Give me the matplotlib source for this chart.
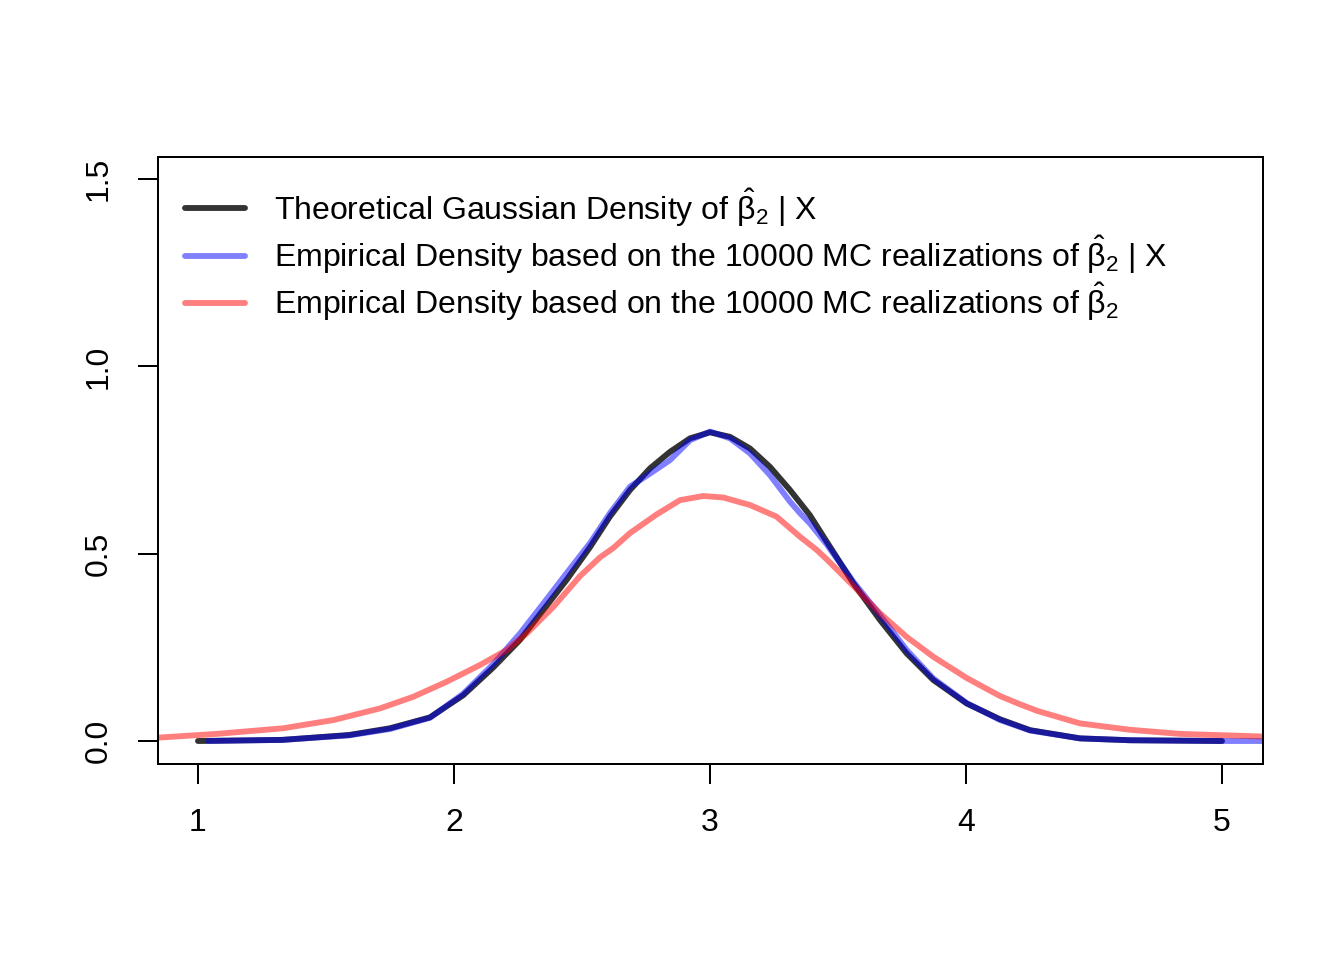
import numpy as np
import matplotlib
matplotlib.use("Agg")
import matplotlib.pyplot as plt

plt.rcParams['font.family'] = ['Liberation Sans', 'DejaVu Sans']
plt.rcParams['mathtext.fontset'] = 'custom'
plt.rcParams['mathtext.rm'] = 'Liberation Sans'
plt.rcParams['mathtext.it'] = 'Liberation Sans'

# valeurs
theo_x = [1.0, 1.33, 1.59, 1.75, 1.906, 2.036, 2.153, 2.258, 2.349, 2.44, 2.531, 2.609, 2.6875,
          2.766, 2.844, 2.922, 3.0, 3.078, 3.156, 3.234, 3.3125, 3.39, 3.456, 3.56, 3.664, 3.768,
          3.872, 4.003, 4.133, 4.25, 4.445, 4.64, 5.0]
theo_y = [0.0, 0.003, 0.016, 0.034, 0.063, 0.122, 0.196, 0.27, 0.35, 0.43, 0.517, 0.599, 0.670,
          0.728, 0.772, 0.808, 0.824, 0.812, 0.781, 0.732, 0.670, 0.603, 0.532, 0.421, 0.323, 0.234,
          0.163, 0.1, 0.058, 0.029, 0.007, 0.002, 0.0]

emp_x = [1.04, 1.33, 1.59, 1.75, 1.906, 2.036, 2.153, 2.258, 2.349, 2.44, 2.531, 2.609, 2.6875,
         2.766, 2.844, 2.922, 3.0, 3.078, 3.156, 3.234, 3.3125, 3.352, 3.39, 3.456, 3.56, 3.664,
         3.768, 3.872, 4.003, 4.133, 4.25, 4.445, 4.64, 5.0, 5.2]
emp_y = [0.0, 0.003, 0.015, 0.032, 0.062, 0.126, 0.205, 0.287, 0.367, 0.448, 0.528, 0.608, 0.679,
         0.714, 0.75, 0.803, 0.826, 0.808, 0.768, 0.71, 0.639, 0.608, 0.581, 0.525, 0.425, 0.336,
         0.243, 0.167, 0.101, 0.056, 0.028, 0.007, 0.002, 0.0, 0.0]

unc_x = [0.80, 1.073, 1.333, 1.53, 1.711, 1.841, 1.971, 2.102, 2.206, 2.284, 2.388, 2.492, 2.57,
         2.622, 2.6875, 2.792, 2.883, 2.974, 3.052, 3.156, 3.26, 3.352, 3.417, 3.456, 3.56, 3.664,
         3.768, 3.872, 4.003, 4.133, 4.211, 4.28, 4.445, 4.64, 4.836, 5.2]
unc_y = [0.007, 0.019, 0.034, 0.056, 0.087, 0.118, 0.158, 0.203, 0.243, 0.287, 0.358, 0.44, 0.49,
         0.515, 0.555, 0.605, 0.643, 0.654, 0.650, 0.630, 0.599, 0.545, 0.51, 0.485, 0.414, 0.341,
         0.278, 0.225, 0.168, 0.12, 0.098, 0.08, 0.047, 0.03, 0.019, 0.011]

labels = [r'Theoretical Gaussian Density of $\hat{\beta}_2$ | X',
          r'Empirical Density based on the 10000 MC realizations of $\hat{\beta}_2$ | X',
          r'Empirical Density based on the 10000 MC realizations of $\hat{\beta}_2$']

fig = plt.figure(figsize=(7, 5), dpi=192)
ax = fig.add_axes([158/1344, 1-764/960, (1263-158)/1344, (764-157)/960])

lw = 2.2
ax.plot(theo_x, theo_y, color='black', alpha=0.8, lw=lw, solid_capstyle='round',
        solid_joinstyle='round', label=labels[0])
ax.plot(emp_x, emp_y, color='blue', alpha=0.5, lw=lw, solid_capstyle='round',
        solid_joinstyle='round', label=labels[1])
ax.plot(unc_x, unc_y, color='red', alpha=0.5, lw=lw, solid_capstyle='round',
        solid_joinstyle='round', label=labels[2])

ax.set_xlim(0.844, 5.16)
ax.set_ylim(-0.0614, 1.559)
ax.set_xticks([1, 2, 3, 4, 5])
ax.set_yticks([0.0, 0.5, 1.0, 1.5])
ax.set_yticklabels(['0.0', '0.5', '1.0', '1.5'], rotation=90, va='center')
ax.tick_params(length=7.5, width=0.75, labelsize=12, pad=9)
for s in ax.spines.values():
    s.set_linewidth(0.75)

ax.legend(loc='upper left', frameon=False, fontsize=12, handlelength=1.9,
          handletextpad=0.9, labelspacing=0.15, borderaxespad=0.0, borderpad=0.0,
          bbox_to_anchor=(0.024, 0.952))

fig.savefig('out.png', dpi=192)
